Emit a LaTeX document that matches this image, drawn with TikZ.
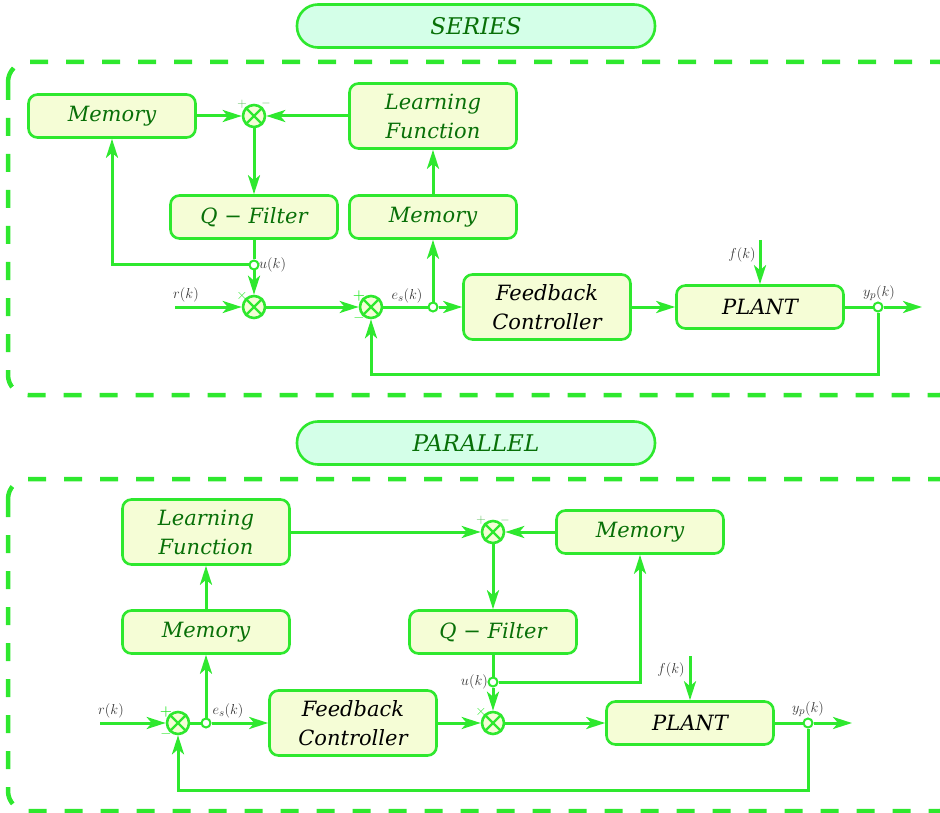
\documentclass[tikz,border=0pt]{standalone}
\usepackage{fontspec}
\newfontfamily\blockfont{DejaVu Serif}
\usetikzlibrary{arrows.meta,calc}

\definecolor{wiregreen}{RGB}{46,232,46}
\definecolor{blockfill}{RGB}{245,253,214}
\definecolor{titlefill}{RGB}{212,255,232}
\definecolor{textgreen}{RGB}{8,112,8}
\definecolor{signgray}{RGB}{55,55,55}
\definecolor{pmgreen}{RGB}{90,190,90}

\tikzset{
  block/.style={draw=wiregreen, fill=blockfill, line width=2.6pt, rounded corners=9pt,
    minimum width=167pt, minimum height=43pt, inner sep=0pt, align=center,
    font=\blockfont\itshape\fontsize{21}{29}\selectfont, text=textgreen},
  tallblock/.style={block, minimum height=65pt},
  darktext/.style={text=black},
  titlebox/.style={draw=wiregreen, fill=titlefill, line width=2.6pt, rounded corners=21pt,
    minimum width=358pt, minimum height=43pt, inner sep=0pt,
    font=\blockfont\itshape\fontsize{23}{26}\selectfont, text=textgreen},
  sumnode/.style={circle, draw=wiregreen, fill=blockfill, line width=2.6pt,
    minimum size=22pt, inner sep=0pt},
  tap/.style={circle, draw=wiregreen, fill=white, line width=2pt,
    minimum size=9pt, inner sep=0pt},
  wire/.style={draw=wiregreen, line width=3pt},
  link/.style={wire, -{Stealth[length=19pt,width=12pt,inset=5pt]}},
  frame/.style={draw=wiregreen, line width=4.5pt, rounded corners=20pt,
    dash pattern=on 18pt off 18pt},
  siglabel/.style={font=\fontsize{15}{15}\selectfont, text=signgray, inner sep=1pt},
  pm/.style={font=\fontsize{14}{14}\selectfont\bfseries, text=wiregreen, inner sep=0pt},
  pmlight/.style={font=\fontsize{13}{13}\selectfont, text=pmgreen, inner sep=0pt},
}

% a summing junction: circle with a cross inside
\newcommand{\crossin}[1]{%
  \draw[draw=wiregreen, line width=2.4pt] (#1.north west) -- (#1.south east)
    (#1.north east) -- (#1.south west);}

\begin{document}
\begin{tikzpicture}[x=1pt, y=-1pt]
\useasboundingbox (0,0) rectangle (940,813);

% ---------------- series arrangement ----------------
\node[titlebox] (t1) at (476,26) {SERIES};
\draw[frame] (8,62) rectangle (960,395);

\node[block] (mem1) at (112,116) {Memory};
\node[sumnode] (s1) at (254,116) {};
\crossin{s1}
\node[tallblock] (lf1) at (433,116) {Learning\\Function};
\node[block] (qf1) at (254,217) {Q − Filter};
\node[block] (mem2) at (433,217) {Memory};
\node[tap] (u1) at (254,265) {};
\node[sumnode] (s2) at (254,307) {};
\crossin{s2}
\node[sumnode] (s3) at (371,307) {};
\crossin{s3}
\node[tap] (e1) at (433,307) {};
\node[tallblock, darktext] (fc1) at (547,307) {Feedback\\Controller};
\node[block, darktext] (pl1) at (760,307) {PLANT};
\node[tap] (y1) at (878,307) {};
\coordinate (rin1) at (175,307);
\coordinate (fin1) at (760,240);
\coordinate (out1) at (922,307);
\coordinate (fb1) at (620,374);

\node[pmlight] at ($(s1)+(-12,-12)$) {+};
\node[pmlight] at ($(s1)+(12,-12)$) {$-$};
\node[pm] at ($(s2)+(-12,-11)$) {$\times$};
\node[pm] at ($(s3)+(-12,-11)$) {+};
\node[pm] at ($(s3)+(-12,11)$) {$-$};

\node[siglabel, anchor=west] at ($(u1)+(4,0)$) {$u(k)$};
\node[siglabel] at (186,295) {$r(k)$};
\node[siglabel] at (407,296) {$e_s(k)$};
\node[siglabel] at (742,255) {$f(k)$};
\node[siglabel] at (879,293) {$y_p(k)$};

\draw[link] (mem1.east) -- (s1.west);
\draw[link] (lf1.west) -- (s1.east);
\draw[link] (s1.south) -- (qf1.north);
\draw[wire] (qf1.south) -- (u1.north);
\draw[link] (u1.south) -- (s2.north);
\draw[link] (u1.west) -| (mem1.south);
\draw[link] (rin1) -- (s2.west);
\draw[link] (s2.east) -- (s3.west);
\draw[wire] (s3.east) -- (e1.west);
\draw[link] (e1.east) -- (fc1.west);
\draw[link] (e1.north) -- (mem2.south);
\draw[link] (mem2.north) -- (lf1.south);
\draw[link] (fc1.east) -- (pl1.west);
\draw[link] (fin1) -- (pl1.north);
\draw[wire] (pl1.east) -- (y1.west);
\draw[link] (y1.east) -- (out1);
\draw[link] (y1.south) -- (y1 |- fb1) -| (s3.south);

% ---------------- parallel arrangement ----------------
\node[titlebox] (t2) at (476,443) {PARALLEL};
\draw[frame] (8,479) rectangle (960,811);

\node[tallblock] (lf2) at (206,532) {Learning\\Function};
\node[sumnode] (s4) at (493,532) {};
\crossin{s4}
\node[block] (mem3) at (640,532) {Memory};
\node[block] (mem4) at (206,632) {Memory};
\node[block] (qf2) at (493,632) {Q − Filter};
\node[tap] (u2) at (493,682) {};
\node[sumnode] (s5) at (493,723) {};
\crossin{s5}
\node[sumnode] (s6) at (178,723) {};
\crossin{s6}
\node[tap] (e2) at (206,723) {};
\node[tallblock, darktext] (fc2) at (353,723) {Feedback\\Controller};
\node[block, darktext] (pl2) at (690,723) {PLANT};
\node[tap] (y2) at (808,723) {};
\coordinate (rin2) at (100,723);
\coordinate (fin2) at (690,656);
\coordinate (out2) at (852,723);
\coordinate (fb2) at (500,790);

\node[pmlight] at ($(s4)+(-12,-12)$) {+};
\node[pmlight] at ($(s4)+(12,-12)$) {$-$};
\node[pm] at ($(s5)+(-12,-11)$) {$\times$};
\node[pm] at ($(s6)+(-12,-11)$) {+};
\node[pm] at ($(s6)+(-12,11)$) {$-$};

\node[siglabel, anchor=east] at ($(u2)+(-4,0)$) {$u(k)$};
\node[siglabel] at (111,711) {$r(k)$};
\node[siglabel] at (228,711) {$e_s(k)$};
\node[siglabel] at (671,670) {$f(k)$};
\node[siglabel] at (808,709) {$y_p(k)$};

\draw[link] (lf2.east) -- (s4.west);
\draw[link] (mem3.west) -- (s4.east);
\draw[link] (s4.south) -- (qf2.north);
\draw[wire] (qf2.south) -- (u2.north);
\draw[link] (u2.south) -- (s5.north);
\draw[link] (u2.east) -| (mem3.south);
\draw[link] (rin2) -- (s6.west);
\draw[wire] (s6.east) -- (e2.west);
\draw[link] (e2.east) -- (fc2.west);
\draw[link] (e2.north) -- (mem4.south);
\draw[link] (mem4.north) -- (lf2.south);
\draw[link] (fc2.east) -- (s5.west);
\draw[link] (s5.east) -- (pl2.west);
\draw[link] (fin2) -- (pl2.north);
\draw[wire] (pl2.east) -- (y2.west);
\draw[link] (y2.east) -- (out2);
\draw[link] (y2.south) -- (y2 |- fb2) -| (s6.south);
\end{tikzpicture}
\end{document}
